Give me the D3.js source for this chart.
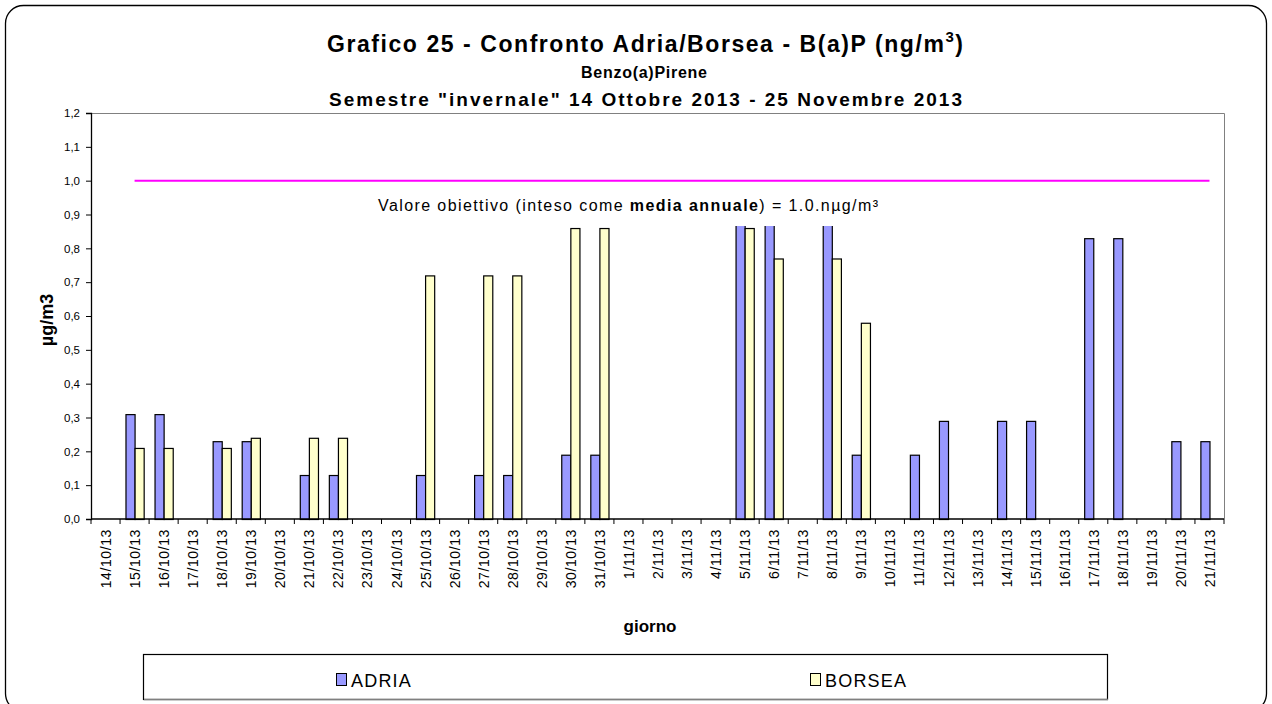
<!DOCTYPE html>
<html>
<head>
<meta charset="utf-8">
<script src="https://cdn.jsdelivr.net/npm/d3@7"></script>
<style>
  html, body { margin: 0; padding: 0; background: #ffffff; }
  svg { display: block; font-family: "Liberation Sans", Arial, sans-serif; }
</style>
</head>
<body>
<svg id="chart" width="1272" height="704"></svg>
<script>
// Days sampled (category axis)
const categories = [
  "14/10/13","15/10/13","16/10/13","17/10/13","18/10/13","19/10/13","20/10/13",
  "21/10/13","22/10/13","23/10/13","24/10/13","25/10/13","26/10/13","27/10/13",
  "28/10/13","29/10/13","30/10/13","31/10/13",
  "1/11/13","2/11/13","3/11/13","4/11/13","5/11/13","6/11/13","7/11/13",
  "8/11/13","9/11/13","10/11/13","11/11/13","12/11/13","13/11/13","14/11/13",
  "15/11/13","16/11/13","17/11/13","18/11/13","19/11/13","20/11/13","21/11/13"
];

// B(a)P daily values, µg/m3 (null = no sample)
const adria = [
  null, 0.31, 0.31, null, 0.23, 0.23, null, 0.13, 0.13, null, null, 0.13, null, 0.13,
  0.13, null, 0.19, 0.19,
  null, null, null, null, 0.95, 0.95, null, 0.95, 0.19, null, 0.19, 0.29, null, 0.29,
  0.29, null, 0.83, 0.83, null, 0.23, 0.23
];
const borsea = [
  null, 0.21, 0.21, null, 0.21, 0.24, null, 0.24, 0.24, null, null, 0.72, null, 0.72,
  0.72, null, 0.86, 0.86,
  null, null, null, null, 0.86, 0.77, null, 0.77, 0.58, null, null, null, null, null,
  null, null, null, null, null, null, null
];
// Target value line (1.0)
const target = [null].concat(categories.slice(1).map(() => 1.0));

const seriesNames = ["ADRIA", "BORSEA"];
const seriesColors = ["#9999FF", "#FFFFCC"];
const yTicks = [0, 0.1, 0.2, 0.3, 0.4, 0.5, 0.6, 0.7, 0.8, 0.9, 1.0, 1.1, 1.2];

const svg = d3.select("#chart");
const plot = { left: 91, right: 1224, top: 113, bottom: 519 };

// outer frame with rounded corners
svg.append("rect")
  .attr("x", 5.5).attr("y", 5.5)
  .attr("width", 1261).attr("height", 706)
  .attr("rx", 18).attr("ry", 18)
  .attr("fill", "#ffffff").attr("stroke", "#000000").attr("stroke-width", 1.3);

const x = d3.scaleBand().domain(categories).range([plot.left, plot.right]).paddingInner(0).paddingOuter(0);
const barW = x.bandwidth() * 0.313;
const xs = d3.scaleBand().domain(seriesNames)
  .range([x.bandwidth() / 2 - barW, x.bandwidth() / 2 + barW]);
const y = d3.scaleLinear().domain([0, 1.2]).range([plot.bottom, plot.top]);

// plot area border (top/right grey)
svg.append("path")
  .attr("d", `M${plot.left},${plot.top + 0.5}H${plot.right + 0.5}V${plot.bottom}`)
  .attr("fill", "none").attr("stroke", "#808080").attr("stroke-width", 1);

// bars
const data = [adria, borsea];
data.forEach((vals, si) => {
  svg.append("g").selectAll("rect")
    .data(categories.map((c, i) => ({ c, v: vals[i] })).filter(d => d.v != null))
    .join("rect")
    .attr("x", d => x(d.c) + xs(seriesNames[si]) + 0.5)
    .attr("y", d => y(d.v) + 0.5)
    .attr("width", xs.bandwidth())
    .attr("height", d => y(0) - y(d.v))
    .attr("fill", seriesColors[si])
    .attr("stroke", "#000000")
    .attr("stroke-width", 1.2);
});

// target line
const line = d3.line()
  .defined(d => d.v != null)
  .x(d => x(d.c) + x.bandwidth() / 2)
  .y(d => y(d.v));
svg.append("path")
  .datum(categories.map((c, i) => ({ c, v: target[i] })))
  .attr("d", line)
  .attr("fill", "none").attr("stroke", "#FF00FF").attr("stroke-width", 2);

// annotation with opaque background
const ann = svg.append("g");
ann.append("rect")
  .attr("x", 372).attr("y", 189).attr("width", 512).attr("height", 37)
  .attr("fill", "#ffffff");
const annText = ann.append("text")
  .attr("x", 378).attr("y", 211)
  .attr("font-size", 16).attr("fill", "#000000")
  .attr("textLength", 500).attr("lengthAdjust", "spacing");
annText.append("tspan").text("Valore obiettivo (inteso come ");
annText.append("tspan").attr("font-weight", "bold").text("media annuale");
annText.append("tspan").text(")  = 1.0.nµg/m³");

// y axis
const yAxis = d3.axisLeft(y).tickValues(yTicks).tickSize(5).tickPadding(6)
  .tickFormat(d => d3.format(".1f")(d).replace(".", ","));
const gy = svg.append("g").attr("transform", `translate(${plot.left},0)`).call(yAxis);
gy.select(".domain").attr("stroke", "#000000").attr("stroke-width", 1.3);
gy.selectAll(".tick line").attr("stroke", "#000000");
gy.selectAll(".tick text").attr("font-size", 11.5).attr("fill", "#000000")
  .attr("font-family", "Liberation Sans, Arial, sans-serif");

// x axis: ticks between categories
const gx = svg.append("g").attr("transform", `translate(0,${plot.bottom})`);
gx.append("line").attr("x1", plot.left).attr("x2", plot.right)
  .attr("stroke", "#000000").attr("stroke-width", 1.3);
const bounds = categories.map(c => x(c)).concat([plot.right]);
gx.selectAll("line.tk").data(bounds).join("line").attr("class", "tk")
  .attr("x1", d => d).attr("x2", d => d).attr("y1", 0).attr("y2", 5)
  .attr("stroke", "#000000");
gx.selectAll("text").data(categories).join("text")
  .attr("transform", d => `translate(${x(d) + x.bandwidth() / 2 + 5.5},10) rotate(-90)`)
  .attr("text-anchor", "end")
  .attr("font-size", 14).attr("letter-spacing", 0.6)
  .attr("fill", "#000000")
  .text(d => d);

// axis titles
svg.append("text")
  .attr("transform", "translate(53,320) rotate(-90)")
  .attr("text-anchor", "middle").attr("font-weight", "bold").attr("font-size", 18)
  .text("µg/m3");
svg.append("text")
  .attr("x", 650).attr("y", 632)
  .attr("text-anchor", "middle").attr("font-weight", "bold").attr("font-size", 17)
  .text("giorno");

// titles
const t1 = svg.append("text")
  .attr("x", 327).attr("y", 52)
  .attr("font-weight", "bold").attr("font-size", 23)
  .attr("textLength", 636).attr("lengthAdjust", "spacing");
t1.append("tspan").text("Grafico 25 - Confronto Adria/Borsea - B(a)P (ng/m");
t1.append("tspan").attr("dy", -10).attr("font-size", 15).text("3");
t1.append("tspan").attr("dy", 10).text(")");
svg.append("text")
  .attr("x", 581).attr("y", 78)
  .attr("font-weight", "bold").attr("font-size", 16)
  .attr("textLength", 126).attr("lengthAdjust", "spacing")
  .text("Benzo(a)Pirene");
svg.append("text")
  .attr("x", 329).attr("y", 106)
  .attr("font-weight", "bold").attr("font-size", 19)
  .attr("textLength", 633).attr("lengthAdjust", "spacing")
  .text("Semestre \"invernale\" 14 Ottobre 2013 - 25 Novembre 2013");

// legend
const lg = svg.append("g");
lg.append("rect")
  .attr("x", 143.5).attr("y", 654.5).attr("width", 964).attr("height", 45)
  .attr("fill", "#ffffff").attr("stroke", "#000000").attr("stroke-width", 1.2);
lg.append("line").attr("x1", 144).attr("x2", 1108).attr("y1", 699.5).attr("y2", 699.5)
  .attr("stroke", "#808080").attr("stroke-width", 1.5);
const legendX = [336, 810];
seriesNames.forEach((n, i) => {
  lg.append("rect")
    .attr("x", legendX[i] + 0.5).attr("y", 673.5).attr("width", 10).attr("height", 12)
    .attr("fill", seriesColors[i]).attr("stroke", "#000000").attr("stroke-width", 1);
  lg.append("text")
    .attr("x", legendX[i] + 15).attr("y", 687)
    .attr("font-size", 18).attr("letter-spacing", 1.2)
    .text(n);
});
</script>
</body>
</html>
